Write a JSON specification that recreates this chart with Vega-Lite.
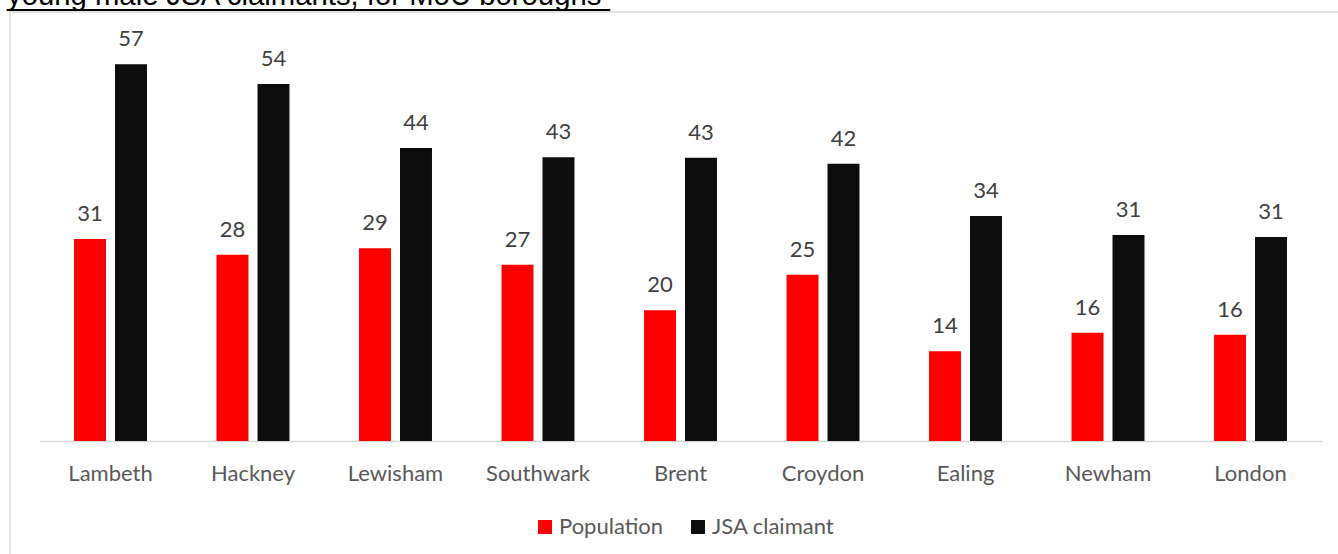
{
  "$schema": "https://vega.github.io/schema/vega-lite/v6.json",
  "autosize": {"type": "none"},
  "padding": {"left": 10, "top": 12, "right": 0, "bottom": 0},
  "width": 1330,
  "height": 545,
  "background": "white",
  "title": {
    "text": ["young male JSA claimants, for MoU boroughs", "_____________________________________"],
    "lineHeight": 0.001,
    "anchor": "start",
    "frame": "group",
    "orient": "top",
    "font": "Liberation Sans",
    "fontSize": 29.3,
    "fontWeight": "normal",
    "color": "#000000",
    "baseline": "alphabetic",
    "offset": -22,
    "dx": -3
  },
  "data": {
    "values": [
      {"borough": "Lambeth", "series": "Population", "value": 30.6},
      {"borough": "Lambeth", "series": "JSA claimant", "value": 57.1},
      {"borough": "Hackney", "series": "Population", "value": 28.2},
      {"borough": "Hackney", "series": "JSA claimant", "value": 54.1},
      {"borough": "Lewisham", "series": "Population", "value": 29.2},
      {"borough": "Lewisham", "series": "JSA claimant", "value": 44.4},
      {"borough": "Southwark", "series": "Population", "value": 26.7},
      {"borough": "Southwark", "series": "JSA claimant", "value": 43.0},
      {"borough": "Brent", "series": "Population", "value": 19.8},
      {"borough": "Brent", "series": "JSA claimant", "value": 42.9},
      {"borough": "Croydon", "series": "Population", "value": 25.2},
      {"borough": "Croydon", "series": "JSA claimant", "value": 42.0},
      {"borough": "Ealing", "series": "Population", "value": 13.6},
      {"borough": "Ealing", "series": "JSA claimant", "value": 34.1},
      {"borough": "Newham", "series": "Population", "value": 16.4},
      {"borough": "Newham", "series": "JSA claimant", "value": 31.2},
      {"borough": "London", "series": "Population", "value": 16.1},
      {"borough": "London", "series": "JSA claimant", "value": 30.9}
    ]
  },
  "encoding": {
    "x": {
      "field": "borough",
      "type": "nominal",
      "sort": null,
      "scale": {"range": [29.25, 1311.75], "paddingInner": 0.488, "paddingOuter": 0.244},
      "axis": {
        "title": null,
        "orient": "bottom",
        "offset": -116,
        "labelAngle": 0,
        "ticks": false,
        "domainColor": "#d9d9d9",
        "domainWidth": 1.5,
        "labelFont": "Lato",
        "labelFontSize": 22,
        "labelColor": "#595959",
        "labelPadding": 22,
        "grid": false
      }
    },
    "xOffset": {
      "field": "series",
      "type": "nominal",
      "sort": ["Population", "JSA claimant"],
      "scale": {"paddingInner": 0.22, "paddingOuter": 0}
    },
    "y": {
      "field": "value",
      "type": "quantitative",
      "scale": {"domain": [-17.58, 65], "nice": false, "zero": false},
      "axis": null
    }
  },
  "layer": [
    {
      "mark": {"type": "bar"},
      "encoding": {
        "y2": {"datum": 0},
        "color": {
          "field": "series",
          "type": "nominal",
          "sort": ["Population", "JSA claimant"],
          "scale": {"domain": ["Population", "JSA claimant"], "range": ["#ff0000", "#0d0d0d"]},
          "legend": {
            "title": null,
            "orient": "none",
            "direction": "horizontal",
            "legendX": 524,
            "legendY": 504,
            "symbolType": "square",
            "symbolSize": 196,
            "symbolStrokeWidth": 0,
            "labelFont": "Lato",
            "labelFontSize": 22,
            "labelColor": "#595959",
            "labelOffset": 3,
            "columnPadding": 24
          }
        }
      }
    },
    {
      "mark": {"type": "text", "baseline": "alphabetic", "dy": -18, "font": "Lato", "fontSize": 22, "color": "#404040"},
      "encoding": {
        "text": {"field": "value", "type": "quantitative", "format": ".0f"}
      }
    }
  ],
  "config": {
    "view": {"stroke": "#d9d9d9", "strokeWidth": 1.5}
  }
}
